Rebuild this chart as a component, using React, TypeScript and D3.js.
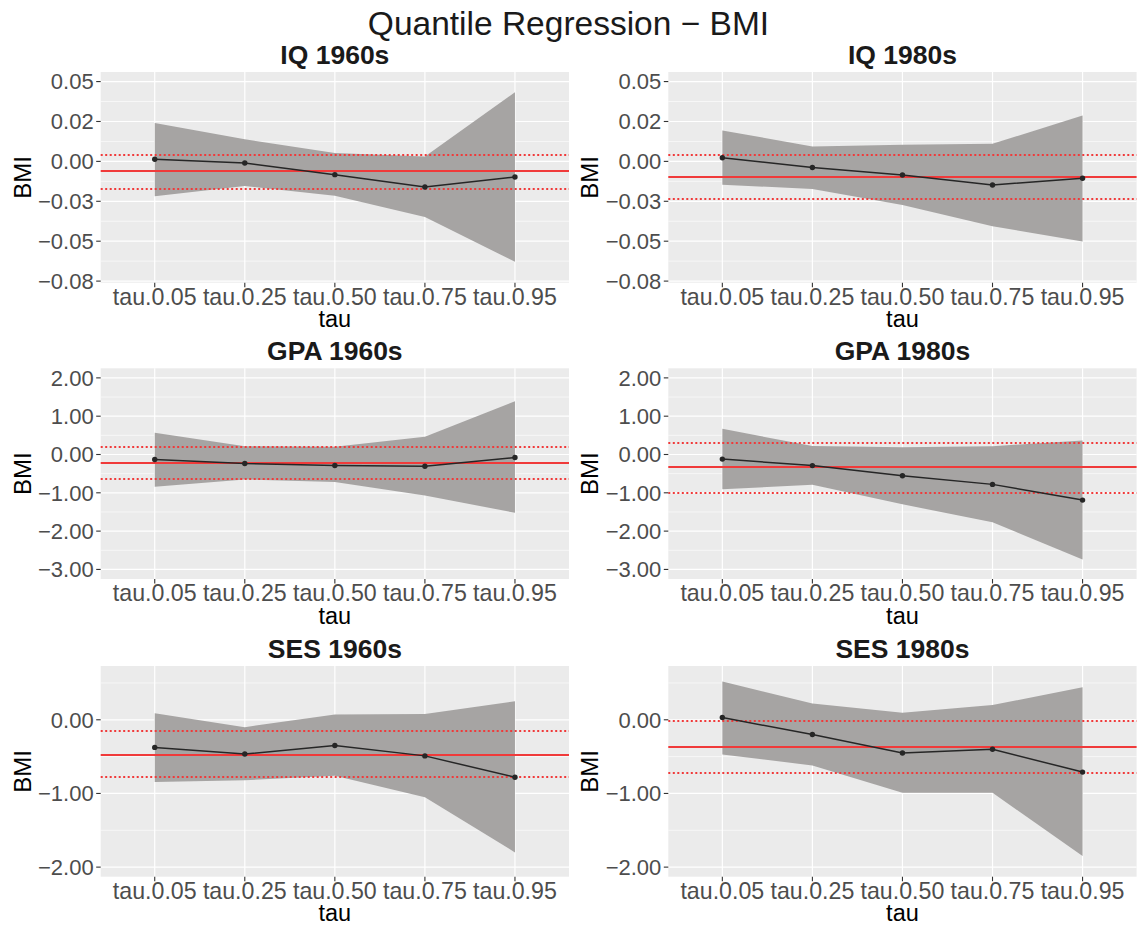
import * as d3 from 'd3';

const TAUS = ['tau.0.05', 'tau.0.25', 'tau.0.50', 'tau.0.75', 'tau.0.95'];

// quantile coefficients and their bands
const iq60Coef = [0.0013, -0.001, -0.0083, -0.016, -0.0098];
const iq60Lower = [-0.0219, -0.0154, -0.0215, -0.0348, -0.0629];
const iq60Upper = [0.024, 0.0138, 0.0052, 0.0031, 0.0433];
const iq60Ols = [-0.006, -0.0173, 0.0046];

const iq80Coef = [0.0023, -0.0038, -0.0085, -0.0148, -0.0106];
const iq80Lower = [-0.0146, -0.0173, -0.0273, -0.0406, -0.0502];
const iq80Upper = [0.0194, 0.0094, 0.0104, 0.011, 0.0288];
const iq80Ols = [-0.01, -0.0233, 0.0039];

const gpa60Coef = [-0.13, -0.235, -0.287, -0.305, -0.078];
const gpa60Lower = [-0.84, -0.65, -0.72, -1.07, -1.52];
const gpa60Upper = [0.566, 0.217, 0.2, 0.46, 1.39];
const gpa60Ols = [-0.2, -0.62, 0.21];

const gpa80Coef = [-0.12, -0.29, -0.556, -0.78, -1.19];
const gpa80Lower = [-0.91, -0.79, -1.3, -1.77, -2.74];
const gpa80Upper = [0.67, 0.22, 0.19, 0.217, 0.365];
const gpa80Ols = [-0.34, -0.99, 0.29];

const ses60Coef = [-0.375, -0.465, -0.35, -0.49, -0.78];
const ses60Lower = [-0.845, -0.82, -0.76, -1.05, -1.8];
const ses60Upper = [0.09, -0.1, 0.07, 0.08, 0.25];
const ses60Ols = [-0.465, -0.77, -0.163];

const ses80Coef = [0.03, -0.2, -0.45, -0.4, -0.71];
const ses80Lower = [-0.47, -0.62, -0.99, -0.99, -1.85];
const ses80Upper = [0.52, 0.22, 0.095, 0.2, 0.44];
const ses80Ols = [-0.37, -0.71, -0.014];

// y axis per row
const ROW_DOMAINS = [[-0.076, 0.056], [-3.25, 2.25], [-2.13, 0.73]];
const ROW_TICKS = [
  [0.05, 0.025, 0, -0.025, -0.05, -0.075],
  [2, 1, 0, -1, -2, -3],
  [0, -1, -2],
];
const ROW_TICK_LABELS = [
  ['0.05', '0.02', '0.00', '\u22120.03', '\u22120.05', '\u22120.08'],
  ['2.00', '1.00', '0.00', '\u22121.00', '\u22122.00', '\u22123.00'],
  ['0.00', '\u22121.00', '\u22122.00'],
];

const panels = [
  { title: 'IQ 1960s', row: 0, col: 0, coef: iq60Coef, lower: iq60Lower, upper: iq60Upper, ols: iq60Ols },
  { title: 'IQ 1980s', row: 0, col: 1, coef: iq80Coef, lower: iq80Lower, upper: iq80Upper, ols: iq80Ols },
  { title: 'GPA 1960s', row: 1, col: 0, coef: gpa60Coef, lower: gpa60Lower, upper: gpa60Upper, ols: gpa60Ols },
  { title: 'GPA 1980s', row: 1, col: 1, coef: gpa80Coef, lower: gpa80Lower, upper: gpa80Upper, ols: gpa80Ols },
  { title: 'SES 1960s', row: 2, col: 0, coef: ses60Coef, lower: ses60Lower, upper: ses60Upper, ols: ses60Ols },
  { title: 'SES 1980s', row: 2, col: 1, coef: ses80Coef, lower: ses80Lower, upper: ses80Upper, ols: ses80Ols },
];

const W = 1137;
const H = 927;
const COL_LEFT = [100.7, 668.3];
const PANEL_W = 468.3;
const ROW_TOP = [72, 368.3, 666];
const PANEL_H = 210.7;
const FONT = '"Liberation Sans", Arial, sans-serif';
const RED = '#f03a3a';

// put horizontal reference lines on a 2px row so they stay red
const snap2 = (v: number) => 2 * Math.round((v - 1) / 2) + 1;

function Panel({ p }: { p: (typeof panels)[number] }) {
  const left = COL_LEFT[p.col];
  const top = ROW_TOP[p.row];
  const right = left + PANEL_W;
  const bottom = top + PANEL_H;
  const cx = (left + right) / 2;

  const x = d3.scalePoint<string>().domain(TAUS).range([left, right]).padding(0.6);
  const y = d3.scaleLinear().domain(ROW_DOMAINS[p.row]).range([bottom, top]);

  const ticks = ROW_TICKS[p.row];
  const labels = ROW_TICK_LABELS[p.row];
  const step = ticks[0] - ticks[1];
  const [d0, d1] = y.domain();
  const minors: number[] = [];
  for (let v = ticks[0] + step / 2; v > d0; v -= step) if (v < d1) minors.push(v);

  const idx = TAUS.map((_, i) => i);
  const area = d3
    .area<number>()
    .x((i) => x(TAUS[i])!)
    .y0((i) => y(p.lower[i]))
    .y1((i) => y(p.upper[i]));
  const line = d3
    .line<number>()
    .x((i) => x(TAUS[i])!)
    .y((i) => y(p.coef[i]));

  return (
    <g>
      <rect x={left} y={top} width={PANEL_W} height={PANEL_H} fill="#EBEBEB" />
      {minors.map((v) => (
        <line key={'m' + v} x1={left} x2={right} y1={y(v)} y2={y(v)} stroke="#fff" strokeWidth={0.6} />
      ))}
      {ticks.map((v) => (
        <line key={'g' + v} x1={left} x2={right} y1={y(v)} y2={y(v)} stroke="#fff" strokeWidth={1.2} />
      ))}
      {TAUS.map((t) => (
        <line key={'v' + t} x1={x(t)} x2={x(t)} y1={top} y2={bottom} stroke="#fff" strokeWidth={1.2} />
      ))}
      <path d={area(idx)!} fill="#a3a1a0" fillOpacity={0.97} />
      <line
        x1={left}
        x2={right}
        y1={snap2(y(p.ols[0]))}
        y2={snap2(y(p.ols[0]))}
        stroke={RED}
        strokeWidth={2}
      />
      {[p.ols[1], p.ols[2]].map((v, i) => (
        <line
          key={'d' + i}
          x1={left}
          x2={right}
          y1={snap2(y(v))}
          y2={snap2(y(v))}
          stroke={RED}
          strokeWidth={2}
          strokeDasharray="2 2.5"
        />
      ))}
      <path d={line(idx)!} fill="none" stroke="#262626" strokeWidth={1.5} />
      {idx.map((i) => (
        <circle key={'c' + i} cx={x(TAUS[i])} cy={y(p.coef[i])} r={2.7} fill="#262626" />
      ))}
      {/* y axis */}
      {ticks.map((v, i) => (
        <g key={'t' + v}>
          <line x1={left - 4.5} x2={left} y1={y(v)} y2={y(v)} stroke="#333" strokeWidth={1.1} />
          <text x={left - 7} y={y(v)} dy="0.36em" textAnchor="end" fontSize={22} fill="#4D4D4D">
            {labels[i]}
          </text>
        </g>
      ))}
      {/* x axis */}
      {TAUS.map((t) => (
        <g key={'x' + t}>
          <line x1={x(t)} x2={x(t)} y1={bottom} y2={bottom + 4.5} stroke="#333" strokeWidth={1.1} />
          <text x={x(t)} y={bottom + 22} textAnchor="middle" fontSize={23.2} fill="#4D4D4D">
            {t}
          </text>
        </g>
      ))}
      <text x={cx} y={bottom + 44.5} textAnchor="middle" fontSize={23.5} fill="#000">
        tau
      </text>
      <text
        transform={`translate(${left - 70},${(top + bottom) / 2}) rotate(-90)`}
        textAnchor="middle"
        fontSize={24}
        fill="#000"
      >
        BMI
      </text>
      <text x={cx} y={top - 8} textAnchor="middle" fontSize={26.5} fontWeight="bold" fill="#1a1a1a">
        {p.title}
      </text>
    </g>
  );
}

export default function App() {
  return (
    <svg
      width={W}
      height={H}
      style={{ position: 'absolute', left: 0, top: 0, background: '#fff' }}
      fontFamily={FONT}
    >
      <rect width={W} height={H} fill="#fff" />
      <text x={W / 2} y={35} textAnchor="middle" fontSize={33.5} fill="#1a1a1a">
        Quantile Regression {'\u2212'} BMI
      </text>
      {panels.map((p) => (
        <Panel key={p.title} p={p} />
      ))}
    </svg>
  );
}
